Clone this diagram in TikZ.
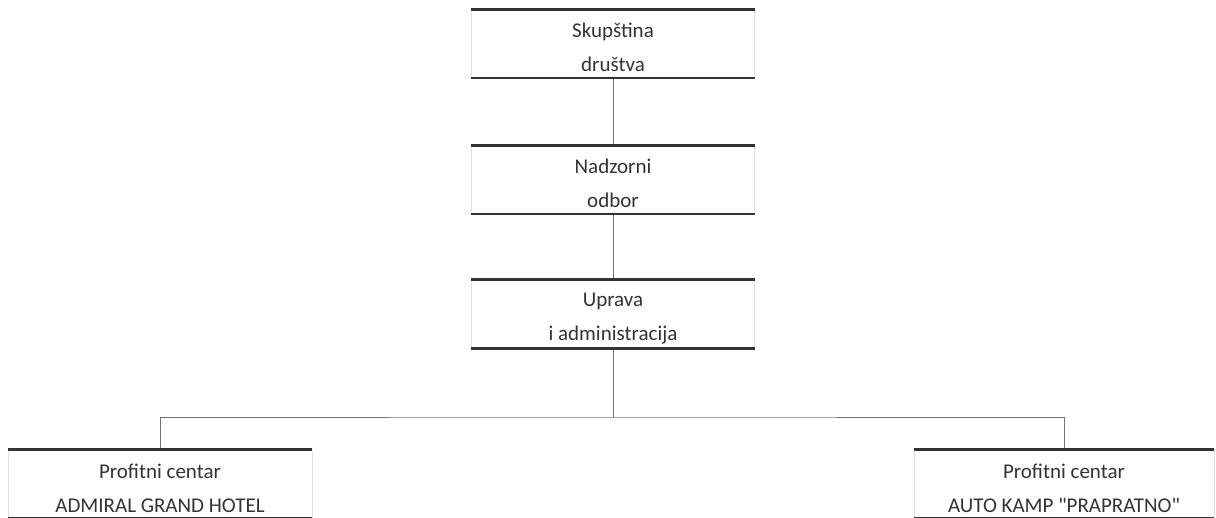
\documentclass[tikz,border=0pt]{standalone}
\usepackage{fontspec}
\setmainfont{Carlito}

\tikzset{
  orgbox/.style={draw=black!12, line width=0.6pt, minimum height=68pt, inner ysep=0pt,
    align=center, text=black!80, font=\fontsize{21}{34}\selectfont},
  rule/.style={line width=2.6pt, draw=black!80},
  link/.style={draw=black!55, line width=1pt},
}
\newcommand{\lowered}[1]{\rule{0pt}{23pt}#1}

\begin{document}
\begin{tikzpicture}[x=1pt,y=-1pt]
    \useasboundingbox (0,0) rectangle (1216,517);
    \clip (0,0) rectangle (1216,517);
    % upper chain
    \node[orgbox, minimum width=283pt] (skup) at (613,43.5) {\lowered{Skupština}\\ društva};
    \node[orgbox, minimum width=283pt] (nadz) at (613,179.5) {\lowered{Nadzorni}\\ odbor};
    \node[orgbox, minimum width=283pt] (uprava) at (613,314) {\lowered{Uprava}\\ i administracija};
    % profit centres
    \node[orgbox, minimum width=304pt] (admiral) at (160,484) {\lowered{Profitni centar}\\ ADMIRAL GRAND HOTEL};
    \node[orgbox, minimum width=300pt] (kamp) at (1064,484) {\lowered{Profitni centar}\\ AUTO KAMP \textquotedbl PRAPRATNO\textquotedbl};
    \coordinate (split) at (613,417);
    \draw[link] (skup) -- (nadz);
    \draw[link] (nadz) -- (uprava);
    \draw[link] (uprava) -- (split);
    \draw[link] (admiral.north) |- (split) -| (kamp.north);
    \foreach \n in {skup,nadz,uprava,admiral,kamp}
        \draw[rule] (\n.north west) -- (\n.north east) (\n.south west) -- (\n.south east);
\end{tikzpicture}
\end{document}
